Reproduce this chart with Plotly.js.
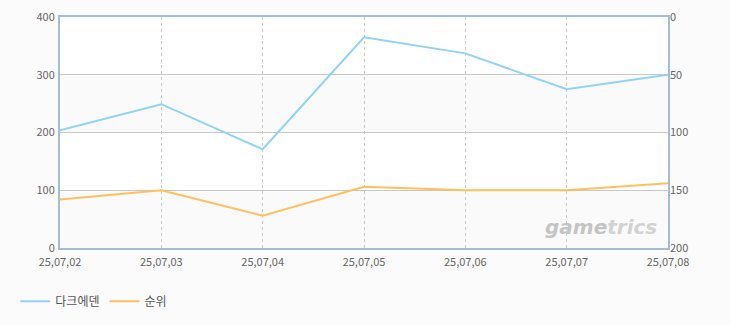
<!DOCTYPE html>
<html>
<head>
<meta charset="utf-8">
<script src="https://cdn.plot.ly/plotly-3.0.1.min.js"></script>
<style>html,body{margin:0;padding:0;background:#fbfbfb;}#chart{width:730px;height:325px;}</style>
</head>
<body>
<div id="chart"></div>
<script>
const categories = ['25,07,02','25,07,03','25,07,04','25,07,05','25,07,06','25,07,07','25,07,08'];
const seriesNames = ['다크에덴','순위'];
const gameValues = [204, 249, 171, 365, 337, 275, 300];
const rankValues = [158, 150, 172, 147, 150, 150, 144];
const leftTicks = [0, 100, 200, 300, 400];
const rightTicks = [0, 50, 100, 150, 200];

const font = {family: '"Noto Sans CJK KR", "DejaVu Sans", sans-serif', size: 11, color: '#666'};

const traces = [
  {x: categories, y: gameValues, name: seriesNames[0], type: 'scatter', mode: 'lines',
   line: {color: '#92d3f3', width: 2}, yaxis: 'y'},
  {x: categories, y: rankValues, name: seriesNames[1], type: 'scatter', mode: 'lines',
   line: {color: '#ffbf5f', width: 2}, yaxis: 'y2'}
];

const layout = {
  width: 730, height: 325,
  margin: {l: 60, r: 62, t: 17, b: 77, autoexpand: false},
  paper_bgcolor: '#fbfbfb',
  plot_bgcolor: '#ffffff',
  font: font,
  showlegend: true,
  legend: {orientation: 'h', xref: 'container', yref: 'container', x: 0.021, y: 0.073, yanchor: 'middle', xanchor: 'left',
           font: {family: font.family, size: 12, color: '#555'}, bgcolor: 'rgba(0,0,0,0)', itemwidth: 30},
  xaxis: {type: 'category', range: [0, 6], showgrid: true, gridcolor: '#c8c8c8', griddash: '3px,3px', gridwidth: 1,
          ticks: '', tickfont: font, showline: true, linecolor: '#a8bccf', linewidth: 2, mirror: true,
          zeroline: false, fixedrange: true, ticklabelstandoff: 3},
  yaxis: {range: [0, 400], tickvals: leftTicks, ticktext: leftTicks.map(String), showgrid: true, gridcolor: '#c8c8c8',
          tickfont: font, showline: true, linecolor: '#a8bccf', linewidth: 2, zeroline: false, ticks: '', mirror: true,
          ticklabelstandoff: 1},
  yaxis2: {range: [200, 0], tickvals: rightTicks, ticktext: rightTicks.map(String), overlaying: 'y', side: 'right',
           showgrid: false, tickfont: font, zeroline: false, ticks: '', showline: false, ticklabelstandoff: 1},
  shapes: [
    {type: 'rect', xref: 'paper', yref: 'y', x0: 0, x1: 1, y0: 200, y1: 300, fillcolor: '#fafafa', line: {width: 0}, layer: 'below'},
    {type: 'rect', xref: 'paper', yref: 'y', x0: 0, x1: 1, y0: 0, y1: 100, fillcolor: '#fafafa', line: {width: 0}, layer: 'below'}
  ],
  annotations: [
    {text: '<b><i>game<span style="color:#d2d2d2">trics</span></i></b>', xref: 'paper', yref: 'paper', x: 0.985, y: 0.03,
     xanchor: 'right', yanchor: 'bottom', showarrow: false,
     font: {family: '"DejaVu Sans", sans-serif', size: 20, color: '#c4c4c4'}}
  ]
};

Plotly.newPlot('chart', traces, layout, {displayModeBar: false, staticPlot: true});
</script>
</body>
</html>
